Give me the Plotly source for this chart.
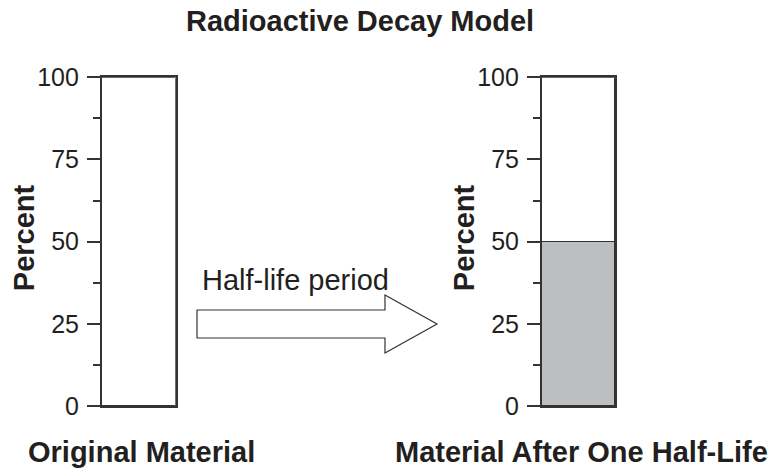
import plotly.graph_objects as go

# ---- data -------------------------------------------------------------
panels = ["Original Material", "Material After One Half-Life"]
remaining_pct = [0, 50]      # shaded part of each column
other_pct = [100, 50]        # unshaded part stacked above it
tick_vals = [0, 25, 50, 75, 100]
minor_vals = [12.5, 37.5, 62.5, 87.5]
axis_title = "Percent"
chart_title = "Radioactive Decay Model"
arrow_label = "Half-life period"

# ---- canvas / styling -------------------------------------------------
W, H = 773, 472
INK = "#231f20"
LINE = "#333333"
SHADE = "#bcbec0"
FONT = "Liberation Sans, Arial, Helvetica, sans-serif"


def px(x):
    return x / W


def py(y):
    return 1 - y / H


# pixel frames of the two columns: (left, right, top, bottom)
frames = [(101.7, 175.7, 77.3, 406.0), (541.7, 615.0, 77.3, 406.0)]

fig = go.Figure()

for i, name in enumerate(panels):
    xa = "x" if i == 0 else f"x{i + 1}"
    ya = "y" if i == 0 else f"y{i + 1}"
    fig.add_trace(go.Bar(
        x=[name], y=[remaining_pct[i]], xaxis=xa, yaxis=ya, width=1,
        marker=dict(color=SHADE, line=dict(color=LINE, width=1.5)),
        showlegend=False, hoverinfo="y"))
    fig.add_trace(go.Bar(
        x=[name], y=[other_pct[i]], xaxis=xa, yaxis=ya, width=1,
        marker=dict(color="white", line=dict(color=LINE, width=1.5)),
        showlegend=False, hoverinfo="y"))

    left, right, top, bottom = frames[i]
    sfx = "" if i == 0 else str(i + 1)
    fig.update_layout(**{
        f"xaxis{sfx}": dict(
            domain=[px(left), px(right)], anchor=ya, range=[-0.5, 0.5],
            showticklabels=False, ticks="", showgrid=False, zeroline=False,
            showline=True, mirror=True, linecolor=LINE, linewidth=1.5,
            automargin=False, fixedrange=True),
        f"yaxis{sfx}": dict(
            domain=[py(bottom), py(top)], anchor=xa, range=[0, 100],
            tickvals=tick_vals, ticks="outside", ticklen=13, tickwidth=1.5,
            tickcolor=LINE, showgrid=False, zeroline=False,
            showline=True, mirror=True, linecolor=LINE, linewidth=1.5,
            tickfont=dict(family=FONT, size=25, color=INK),
            ticklabelstandoff=3,
            minor=dict(tickvals=minor_vals, ticks="outside", ticklen=7,
                       tickwidth=1.5, tickcolor=LINE, showgrid=False),
            automargin=False, fixedrange=True),
    })

    # rotated axis title
    fig.add_annotation(
        text=f"<b>{axis_title}</b>", textangle=-90,
        x=px(left - 78), y=py(237.5), xref="paper", yref="paper",
        xanchor="center", yanchor="middle", showarrow=False,
        font=dict(family=FONT, size=29, color=INK))

    # category label under the column
    fig.add_annotation(
        text=f"<b>{name}</b>", x=px((left + right) / 2 + 3), y=py(452),
        xref="paper", yref="paper", xanchor="center", yanchor="middle",
        showarrow=False, font=dict(family=FONT, size=29, color=INK))

# chart title
fig.add_annotation(
    text=f"<b>{chart_title}</b>", x=px(359.5), y=py(21),
    xref="paper", yref="paper", xanchor="center", yanchor="middle",
    showarrow=False, font=dict(family=FONT, size=29, color=INK))

# block arrow between the columns
arrow_pts = [(197, 310), (385, 310), (385, 295), (437, 324),
             (385, 353), (385, 338), (197, 338)]
path = "M " + " L ".join(f"{px(x):.5f},{py(y):.5f}" for x, y in arrow_pts) + " Z"
fig.add_shape(type="path", path=path, xref="paper", yref="paper",
              fillcolor="white", line=dict(color=LINE, width=1.2))

fig.add_annotation(
    text=arrow_label, x=px(200), y=py(280), xref="paper", yref="paper",
    xanchor="left", yanchor="middle", showarrow=False,
    font=dict(family=FONT, size=29, color=INK))

fig.update_layout(
    width=W, height=H, margin=dict(l=0, r=0, t=0, b=0),
    paper_bgcolor="white", plot_bgcolor="white", barmode="stack",
    font=dict(family=FONT, color=INK))

fig.write_html("out.html")
